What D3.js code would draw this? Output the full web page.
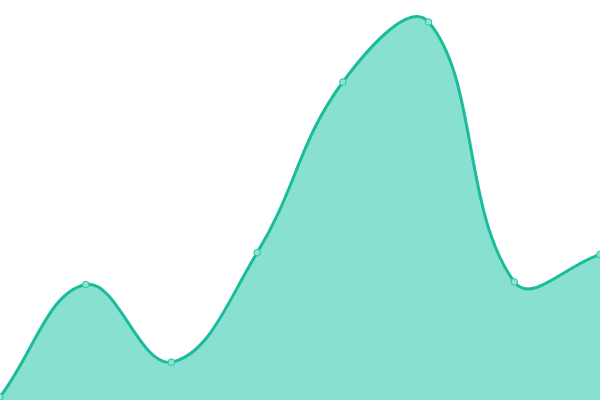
<!DOCTYPE html>
<html>
<head>
<meta charset="utf-8">
<script src="https://cdn.jsdelivr.net/npm/d3@7"></script>
<style>
  html, body { margin: 0; padding: 0; background: #fff; }
</style>
</head>
<body>
<div class="canva"></div>
<script>
// one series, eight evenly spaced points
const labels = ["1", "2", "3", "4", "5", "6", "7", "8"];
const values = [0, 30, 9.3, 38.5, 84, 100, 30.7, 38];

const width = 600;
const height = 400;
const tension = 0.4;

const svg = d3.select(".canva").append("svg")
    .attr("width", width)
    .attr("height", height)
    .style("display", "block");

const x = d3.scalePoint()
    .domain(labels)
    .range([0, width]);

const y = d3.scaleLinear()
    .domain([0, 100])
    .range([397, 22]);

const pts = values.map((v, i) => [x(labels[i]), y(v)]);

// spline with distance-weighted control points
function splinePath(p, closeBottom) {
    const ctrl = p.map((cur, i) => {
        const prev = p[i - 1] || cur;
        const next = p[i + 1] || cur;
        const d01 = Math.hypot(cur[0] - prev[0], cur[1] - prev[1]);
        const d12 = Math.hypot(next[0] - cur[0], next[1] - cur[1]);
        let s01 = d01 / (d01 + d12);
        let s12 = d12 / (d01 + d12);
        if (isNaN(s01)) s01 = 0;
        if (isNaN(s12)) s12 = 0;
        const fa = tension * s01;
        const fb = tension * s12;
        const clampY = v => Math.max(0, Math.min(height, v));
        return {
            before: [cur[0] - fa * (next[0] - prev[0]), clampY(cur[1] - fa * (next[1] - prev[1]))],
            after: [cur[0] + fb * (next[0] - prev[0]), clampY(cur[1] + fb * (next[1] - prev[1]))]
        };
    });
    const path = d3.path();
    path.moveTo(p[0][0], p[0][1]);
    for (let i = 1; i < p.length; i++) {
        path.bezierCurveTo(ctrl[i - 1].after[0], ctrl[i - 1].after[1],
            ctrl[i].before[0], ctrl[i].before[1], p[i][0], p[i][1]);
    }
    if (closeBottom) {
        path.lineTo(p[p.length - 1][0], height);
        path.lineTo(p[0][0], height);
        path.closePath();
    }
    return path.toString();
}

svg.append("path")
    .attr("d", splinePath(pts, true))
    .attr("fill", "#88e0d0");

svg.append("path")
    .attr("d", splinePath(pts, false))
    .attr("fill", "none")
    .attr("stroke", "#1abc9c")
    .attr("stroke-width", 3);

svg.selectAll("circle")
    .data(values)
    .enter()
    .append("circle")
    .attr("cx", (d, i) => x(labels[i]))
    .attr("cy", d => y(d))
    .attr("r", 3.3)
    .attr("fill", "#8fe3d3")
    .attr("stroke", "#2cc1a3")
    .attr("stroke-width", 1);
</script>
</body>
</html>
